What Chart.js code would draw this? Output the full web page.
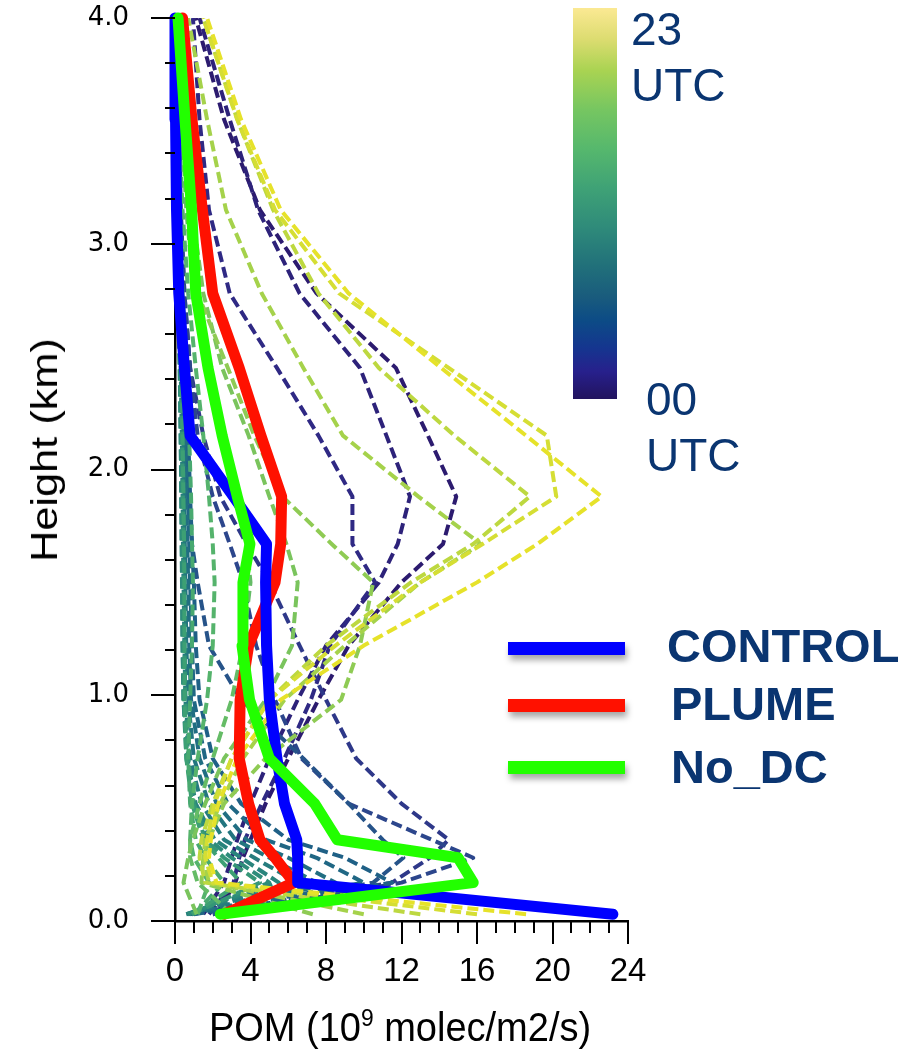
<!DOCTYPE html>
<html>
<head>
<meta charset="utf-8">
<script src="https://cdn.jsdelivr.net/npm/chart.js@4/dist/chart.umd.min.js"></script>
<style>
  body { margin: 0; background: #fff; }
  #wrap { position: relative; width: 923px; height: 1056px; overflow: hidden; font-family: "Liberation Sans", Arial, sans-serif; }
  #chart { position: absolute; left: 0; top: 0; }
  .txt { position: absolute; white-space: nowrap; color: #0a3571; }
  .utc { font-size: 46px; line-height: 56px; }
  .leg { font-size: 47px; line-height: 47px; font-weight: bold; }
  .swatch { position: absolute; left: 508px; width: 117px; height: 13px; box-shadow: 2px 5px 6px rgba(0,0,0,0.35); }
  #cbar { position: absolute; left: 573px; top: 8px; width: 44px; height: 391px;
    background: linear-gradient(to top, #22135e 0%, #27208c 7%, #15358f 13%, #0c4b86 20%, #195b7d 26%, #21707a 34%,
      #2f8b7a 44%, #3fa276 54%, #56b86d 64%, #76c661 74%, #a9d352 84%, #dcdc70 92%, #fbe993 100%); }
  #ytitle { position: absolute; left: 45px; top: 450px; font-size: 37px; color: #000;
    transform: translate(-50%, -50%) rotate(-90deg) scaleX(1.17); white-space: nowrap; }
  #xtitle { position: absolute; left: 400px; top: 1005px; font-size: 40px; color: #000; transform: translateX(-50%) scaleX(0.95);
    white-space: nowrap; line-height: 44px; }
  #xtitle sup { font-size: 24px; vertical-align: 15px; line-height: 0; }
</style>
</head>
<body>
<div id="wrap">
  <canvas id="chart" width="923" height="1056"></canvas>
  <div id="cbar"></div>
  <div class="txt utc" style="left:631px; top:1px;">23<br>UTC</div>
  <div class="txt utc" style="left:646px; top:371px;">00<br>UTC</div>
  <div class="swatch" style="top:642px; background:#0000ff;"></div>
  <div class="swatch" style="top:699px; background:#ff1100;"></div>
  <div class="swatch" style="top:761px; background:#22ff00;"></div>
  <div class="txt leg" style="left:667px; top:622px;">CONTROL</div>
  <div class="txt leg" style="left:671px; top:680px;">PLUME</div>
  <div class="txt leg" style="left:671px; top:743px;">No_DC</div>
  <div id="ytitle">Height (km)</div>
  <div id="xtitle">POM (10<sup>9</sup> molec/m2/s)</div>
</div>
<script>
// model levels (km) shared by every profile
const heights = [0.03, 0.17, 0.28, 0.36, 0.52, 0.72, 0.98, 1.22, 1.5, 1.67, 1.88, 2.15, 2.45, 2.78, 3.15, 3.55, 4.0];

// daily mean profiles of the three runs
const control = [23.2, 6.5, 6.5, 6.45, 5.8, 5.4, 5.0, 4.85, 4.8, 4.85, 3.1, 0.8, 0.5, 0.2, 0.08, 0.03, 0.0];
const plume   = [2.6, 6.3, 5.3, 4.5, 3.9, 3.4, 3.45, 3.9, 5.3, 5.6, 5.65, 4.55, 3.4, 2.0, 1.45, 0.9, 0.4];
const noDC    = [2.4, 15.8, 15.0, 8.6, 7.4, 5.0, 3.95, 3.55, 3.6, 3.97, 3.3, 2.5, 1.75, 1.1, 0.88, 0.53, 0.16];

// hourly CONTROL profiles, 00 to 23 UTC
const h00 = [2.2, 3.2, 3.6, 4.0, 4.8, 6.0, 7.6, 9.2, 12.0, 14.2, 14.9, 13.4, 11.7, 7.5, 4.5, 2.6, 1.1];
const h01 = [1.5, 2.6, 3.0, 3.3, 4.0, 5.0, 6.5, 8.0, 10.8, 11.8, 12.45, 11.2, 9.8, 6.6, 4.4, 2.9, 1.3];
const h02 = [1.8, 3.1, 3.4, 3.7, 4.6, 5.8, 7.2, 8.2, 10.6, 9.4, 9.4, 7.6, 5.4, 2.9, 1.8, 1.3, 0.95];
const h03 = [2.0, 11.5, 13.5, 14.5, 12.0, 9.6, 8.0, 6.6, 5.0, 3.8, 2.4, 1.5, 0.8, 0.5, 0.3, 0.2, 0.1];
const h04 = [2.5, 12.0, 15.8, 13.6, 9.2, 6.7, 5.3, 4.3, 3.6, 2.9, 2.0, 1.2, 0.8, 0.5, 0.3, 0.2, 0.1];
const h05 = [2.0, 10.5, 12.1, 11.0, 9.2, 6.8, 3.5, 1.8, 1.2, 0.9, 0.7, 0.55, 0.45, 0.3, 0.2, 0.1, 0.05];
const h06 = [1.0, 11.5, 9.0, 6.0, 3.5, 2.0, 1.3, 1.1, 1.0, 0.9, 0.8, 0.7, 0.55, 0.4, 0.25, 0.12, 0.05];
const h07 = [0.9, 10.0, 7.5, 4.8, 2.8, 1.6, 1.0, 0.9, 0.8, 0.75, 0.7, 0.6, 0.5, 0.35, 0.2, 0.1, 0.04];
const h08 = [0.8, 8.5, 6.0, 3.8, 2.2, 1.3, 0.85, 0.75, 0.7, 0.65, 0.6, 0.55, 0.45, 0.3, 0.18, 0.09, 0.03];
const h09 = [0.7, 7.5, 5.0, 3.2, 1.8, 1.0, 0.7, 0.6, 0.55, 0.52, 0.5, 0.45, 0.38, 0.25, 0.14, 0.07, 0.03];
const h10 = [0.6, 6.5, 4.2, 2.6, 1.4, 0.8, 0.55, 0.5, 0.45, 0.42, 0.4, 0.36, 0.3, 0.2, 0.1, 0.05, 0.02];
const h11 = [0.6, 5.5, 3.5, 2.1, 1.1, 0.65, 0.45, 0.4, 0.37, 0.35, 0.33, 0.3, 0.25, 0.16, 0.08, 0.04, 0.02];
const h12 = [0.7, 5.0, 3.0, 1.8, 1.0, 0.6, 0.45, 0.4, 0.38, 0.36, 0.34, 0.3, 0.25, 0.15, 0.08, 0.04, 0.02];
const h13 = [0.9, 4.5, 2.6, 1.6, 1.0, 0.7, 0.55, 0.5, 0.48, 0.45, 0.42, 0.38, 0.3, 0.18, 0.1, 0.05, 0.02];
const h14 = [0.9, 3.5, 2.3, 1.5, 0.9, 0.6, 0.5, 0.5, 0.5, 0.48, 0.45, 0.4, 0.32, 0.2, 0.1, 0.05, 0.02];
const h15 = [1.0, 2.6, 1.6, 1.1, 0.8, 0.7, 0.8, 0.9, 0.95, 0.9, 0.85, 0.75, 0.6, 0.4, 0.22, 0.1, 0.04];
const h16 = [1.2, 1.8, 1.0, 0.8, 0.9, 1.2, 1.7, 2.0, 2.1, 2.0, 1.8, 1.5, 1.1, 0.7, 0.4, 0.2, 0.08];
const h17 = [3.0, 1.2, 0.8, 0.8, 1.3, 2.0, 3.0, 3.6, 4.0, 3.8, 3.2, 2.4, 1.6, 1.0, 0.6, 0.35, 0.15];
const h18 = [1.15, 0.45, 0.7, 0.95, 1.6, 2.6, 4.8, 6.2, 6.5, 5.9, 5.0, 3.9, 2.5, 1.5, 0.9, 0.5, 0.3];
const h19 = [7.3, 1.4, 1.5, 1.8, 2.6, 4.8, 8.8, 9.8, 10.5, 8.3, 5.7, 4.2, 2.8, 1.2, 0.8, 0.5, 0.3];
const h20 = [10.0, 1.8, 1.5, 1.6, 2.4, 3.6, 5.8, 9.0, 13.0, 16.2, 12.9, 8.9, 6.8, 4.6, 2.7, 1.7, 0.7];
const h21 = [13.0, 1.6, 1.3, 1.4, 2.0, 3.0, 5.0, 8.0, 12.5, 15.8, 18.8, 14.8, 10.8, 7.6, 5.2, 3.3, 1.5];
const h22 = [16.0, 2.0, 1.6, 1.7, 2.1, 3.0, 5.0, 8.5, 13.0, 16.3, 20.2, 19.7, 14.5, 8.7, 5.3, 3.3, 1.5];
const h23 = [18.6, 2.2, 1.8, 1.9, 2.3, 3.3, 5.6, 10.0, 16.0, 19.2, 22.6, 18.6, 14.1, 9.2, 5.6, 3.5, 1.7];
const hourly = [h00, h01, h02, h03, h04, h05, h06, h07, h08, h09, h10, h11,
                h12, h13, h14, h15, h16, h17, h18, h19, h20, h21, h22, h23];

const xTicks = [0, 4, 8, 12, 16, 20, 24];
const yTicks = [0, 1, 2, 3, 4];

// colour scale for the hours (dark purple -> yellow)
const cmap = [[0, '#2c1b6f'], [0.09, '#2f2a85'], [0.17, '#2d458c'], [0.26, '#1f6086'], [0.4, '#22767f'],
              [0.52, '#2d8c7a'], [0.62, '#3fa273'], [0.72, '#5cb96a'], [0.8, '#82c75a'], [0.88, '#aad449'],
              [0.95, '#d3dd35'], [1, '#e6e22a']];
function hex(c) { return [1, 3, 5].map(i => parseInt(c.slice(i, i + 2), 16)); }
function hourColor(t) {
  for (let i = 1; i < cmap.length; i++) {
    if (t <= cmap[i][0]) {
      const [t0, c0] = cmap[i - 1], [t1, c1] = cmap[i];
      const f = (t - t0) / (t1 - t0), a = hex(c0), b = hex(c1);
      return `rgb(${a.map((v, k) => Math.round(v + (b[k] - v) * f)).join(',')})`;
    }
  }
  return cmap[cmap.length - 1][1];
}

const toPoints = vals => heights.map((h, i) => ({ x: vals[i], y: h }));

const thick = (vals, color) => ({
  data: toPoints(vals), borderColor: color, borderWidth: 11, pointRadius: 0,
  borderCapStyle: 'round', borderJoinStyle: 'round', clip: false
});

const datasets = [thick(noDC, '#22ff00'), thick(control, '#0000ff'), thick(plume, '#ff1100')];
for (let h = hourly.length - 1; h >= 0; h--) {
  datasets.push({
    data: toPoints(hourly[h]), borderColor: hourColor(h / 23), borderWidth: 4,
    borderDash: [11, 5], pointRadius: 0, borderJoinStyle: 'round'
  });
}

// major + minor tick marks drawn outside the plot
const tickMarks = {
  id: 'tickMarks',
  afterDraw(chart) {
    const { ctx, chartArea: a, scales: { x, y } } = chart;
    ctx.save();
    ctx.strokeStyle = '#000';
    ctx.lineWidth = 2;
    ctx.beginPath();
    for (let v = 0; v <= 24; v++) {
      const px = Math.round(x.getPixelForValue(v));
      ctx.moveTo(px, a.bottom);
      ctx.lineTo(px, a.bottom + (v % 4 === 0 ? 23 : 12));
    }
    for (let i = 0; i <= 20; i++) {
      const py = Math.round(y.getPixelForValue(i * 0.2));
      ctx.moveTo(a.left, py);
      ctx.lineTo(a.left - (i % 5 === 0 ? 24 : 10), py);
    }
    ctx.stroke();
    ctx.restore();
  }
};

new Chart(document.getElementById('chart'), {
  type: 'line',
  data: { datasets },
  plugins: [tickMarks],
  options: {
    responsive: false,
    animation: false,
    devicePixelRatio: 1,
    layout: { padding: { left: 0, top: 18, right: 295, bottom: 0 } },
    plugins: { legend: { display: false }, tooltip: { enabled: false } },
    elements: { line: { tension: 0 } },
    scales: {
      x: {
        type: 'linear', min: 0, max: 24,
        afterBuildTicks: s => { s.ticks = xTicks.map(v => ({ value: v })); },
        afterFit: s => { s.height = 135; s.paddingLeft = 0; s.paddingRight = 0; },
        grid: { display: false, drawTicks: false },
        border: { display: true, color: '#000', width: 2.5 },
        ticks: { color: '#000', padding: 31, maxRotation: 0,
          font: { family: '"Liberation Sans", Arial, sans-serif', size: 33 } }
      },
      y: {
        type: 'linear', min: 0, max: 4,
        afterBuildTicks: s => { s.ticks = yTicks.map(v => ({ value: v })); },
        afterFit: s => { s.width = 175; s.paddingTop = 0; s.paddingBottom = 0; },
        grid: { display: false, drawTicks: false },
        border: { display: true, color: '#000', width: 2.5 },
        ticks: { color: '#000', padding: 46, callback: v => v.toFixed(1),
          font: { family: '"DejaVu Sans", sans-serif', size: 26 } }
      }
    }
  }
});
</script>
</body>
</html>
